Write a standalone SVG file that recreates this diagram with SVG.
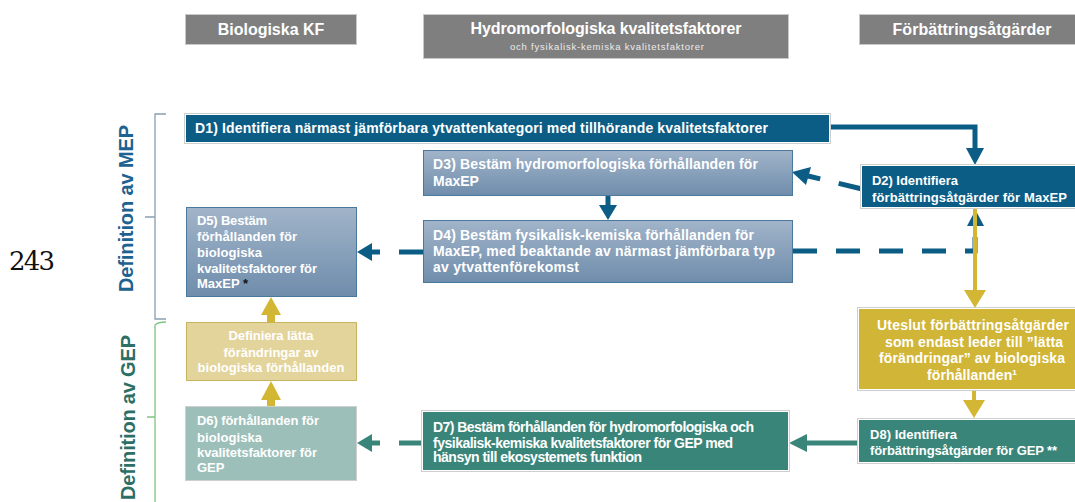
<svg xmlns="http://www.w3.org/2000/svg" width="1075" height="502" viewBox="0 0 1075 502">
<defs>
<linearGradient id="gb" x1="0" y1="0" x2="0" y2="1">
<stop offset="0" stop-color="#a1b4c9"/>
<stop offset="1" stop-color="#6f8dac"/>
</linearGradient>
</defs>
<style>
text{font-family:"Liberation Sans",Arial,sans-serif;font-weight:bold;fill:#fff}
.hdr{fill:#7f7f7f;stroke:#c9c9c9;stroke-width:1}
.h{font-size:16px}
.t14{font-size:14px}
.t13{font-size:13px}
.frame{fill:#fff;stroke:#cfcfcf;stroke-width:1}
.blue{fill:#0b5d86}
.grad{fill:url(#gb);stroke:#4b789d;stroke-width:1}
.teal{fill:#3a8579}
.lteal{fill:#9cc0b9}
.mustard{fill:#d1b536}
.khaki{fill:#e3d49b;stroke:#c9b45e;stroke-width:1}
.lb{stroke:#0b5d86;stroke-width:5;fill:none}
.lbd{stroke:#0b5d86;stroke-width:5;fill:none;stroke-dasharray:24 19}
.ltd{stroke:#3a8579;stroke-width:5;fill:none;stroke-dasharray:24 19}
.lt{stroke:#3a8579;stroke-width:5;fill:none}
.ly{stroke:#d3b734;stroke-width:4;fill:none}
.lyw{stroke:#d3b734;stroke-width:8;fill:none}
.hb{fill:#0b5d86}
.ht{fill:#3a8579}
.hy{fill:#d3b734}
.side{font-size:20px}
</style>

<g id="header-bio">
<rect class="hdr" x="185.5" y="14.5" width="171" height="30"/>
<text class="h" x="271" y="35" text-anchor="middle">Biologiska KF</text>
</g>
<g id="header-hydro">
<rect class="hdr" x="423.5" y="14.5" width="365" height="44"/>
<text class="h" x="606" y="34" text-anchor="middle" textLength="271">Hydromorfologiska kvalitetsfaktorer</text>
<text x="607" y="50" text-anchor="middle" style="font-size:9.5px;font-weight:normal;fill:#ececec" textLength="194">och fysikalisk-kemiska  kvalitetsfaktorer</text>
</g>
<g id="header-atg">
<rect class="hdr" x="859.5" y="14.5" width="216" height="30"/>
<text class="h" x="972" y="35" text-anchor="middle" textLength="159">Förbättringsåtgärder</text>
</g>

<g id="page-number">
<text x="9" y="270" style="font-family:'DejaVu Serif',serif;font-weight:normal;font-size:26px;fill:#111" textLength="46">243</text>
</g>

<g id="bracket-mep">
<path d="M166,114 H155 V319 H166 M155,217 H145" fill="none" stroke="#8a9fb1" stroke-width="1.3"/>
<text class="side" transform="translate(133,208.5) rotate(-90)" text-anchor="middle" style="fill:#1d6290" textLength="167">Definition av MEP</text>
</g>
<g id="bracket-gep">
<path d="M166,322 Q158,322 155,325 V502 M155,417 H147" fill="none" stroke="#7fc583" stroke-width="1.3"/>
<text class="side" transform="translate(135,417.5) rotate(-90)" text-anchor="middle" style="fill:#2d6e65" textLength="165">Definition av GEP</text>
</g>

<g id="connectors">
<!-- D1 -> D2 -->
<path class="lb" d="M829,127 H975 V150"/>
<polygon class="hb" points="966,148 984,148 975,165"/>
<!-- D2 -> D3 dashed -->
<path class="lbd" d="M862,189 L808,176"/>
<polygon class="hb" points="792,172 811,167 806,185"/>
<!-- D3 -> D4 -->
<path class="lb" d="M608,196 V206"/>
<polygon class="hb" points="599,205 617,205 608,220"/>
<!-- D4 -> D2 dashed -->
<path class="lbd" d="M793,251 H975 V226"/>
<polygon class="hb" points="967,226 984,226 975.5,210"/>
<!-- D4 -> D5 dashed -->
<path class="lbd" d="M423,252 H370"/>
<polygon class="hb" points="372,243 372,261 357,252"/>
<!-- D2 -> Uteslut -->
<path class="ly" d="M975,208 V292"/>
<polygon class="hy" points="964,290 986,290 975,308"/>
<!-- Uteslut -> D8 -->
<path class="ly" d="M974,389 V402"/>
<polygon class="hy" points="963,400 985,400 974,418"/>
<!-- Definiera -> D5 -->
<path class="lyw" d="M271,322 V312"/>
<polygon class="hy" points="261,315 281,315 271,297"/>
<!-- D6 -> Definiera -->
<path class="lyw" d="M271,407 V397"/>
<polygon class="hy" points="261,400 281,400 271,381"/>
<!-- D7 -> D6 dashed -->
<path class="ltd" d="M423,443 H370"/>
<polygon class="ht" points="372,434 372,452 357,443"/>
<!-- D8 -> D7 -->
<path class="lt" d="M859,443 H805"/>
<polygon class="ht" points="807,434 807,452 789,443"/>
</g>

<g id="D1">
<rect class="frame" x="184.5" y="113.5" width="646" height="30"/>
<rect class="blue" x="186" y="115" width="643" height="27"/>
<text class="t14" x="195" y="133" textLength="573">D1) Identifiera närmast jämförbara ytvattenkategori med tillhörande kvalitetsfaktorer</text>
</g>

<g id="D2">
<rect class="frame" x="860.5" y="164.5" width="216" height="44"/>
<rect class="blue" x="862" y="166" width="213" height="41"/>
<text class="t13" x="872" y="184.5" textLength="86">D2) Identifiera</text>
<text class="t13" x="872" y="202" textLength="195">förbättringsåtgärder för MaxEP</text>
</g>

<g id="D3">
<rect class="grad" x="423.5" y="150.5" width="369" height="45"/>
<text class="t14" x="433" y="169" textLength="325">D3) Bestäm hydromorfologiska förhållanden för</text>
<text class="t14" x="433" y="186">MaxEP</text>
</g>

<g id="D4">
<rect class="grad" x="423.5" y="220.5" width="369" height="62"/>
<text class="t14" x="433" y="240" textLength="321">D4) Bestäm fysikalisk-kemiska förhållanden för</text>
<text class="t14" x="433" y="256" textLength="342">MaxEP, med beaktande av närmast jämförbara typ</text>
<text class="t14" x="433" y="272" textLength="146">av ytvattenförekomst</text>
</g>

<g id="D5">
<rect class="grad" x="186.5" y="207.5" width="170" height="89"/>
<text class="t13" x="197" y="225" textLength="70">D5) Bestäm</text>
<text class="t13" x="197" y="241" textLength="100">förhållanden för</text>
<text class="t13" x="197" y="257" textLength="65">biologiska</text>
<text class="t13" x="197" y="272.5" textLength="120">kvalitetsfaktorer för</text>
<text class="t13" x="197" y="288">MaxEP<tspan style="fill:#111"> *</tspan></text>
</g>

<g id="Uteslut">
<rect class="frame" x="857.5" y="307.5" width="219" height="83"/>
<rect class="mustard" x="859" y="309" width="216" height="80"/>
<text class="t14" x="973" y="330" text-anchor="middle" textLength="192">Uteslut förbättringsåtgärder</text>
<text class="t14" x="974" y="346.5" text-anchor="middle" textLength="178">som endast leder till  ”lätta</text>
<text class="t14" x="972" y="363" text-anchor="middle" textLength="186">förändringar” av biologiska</text>
<text class="t14" x="972" y="380" text-anchor="middle" textLength="90">förhållanden¹</text>
</g>

<g id="Definiera">
<rect class="khaki" x="186.5" y="322.5" width="170" height="58"/>
<text class="t13" x="271" y="340" text-anchor="middle" textLength="85">Definiera lätta</text>
<text class="t13" x="271" y="356.5" text-anchor="middle" textLength="95">förändringar av</text>
<text class="t13" x="271" y="371.5" text-anchor="middle" textLength="147">biologiska förhållanden</text>
</g>

<g id="D6">
<rect class="frame" x="185.5" y="406.5" width="171" height="74"/>
<rect class="lteal" x="186" y="407" width="170" height="73"/>
<text class="t13" x="197" y="425" textLength="122">D6) förhållanden för</text>
<text class="t13" x="197" y="441.5" textLength="65">biologiska</text>
<text class="t13" x="197" y="456.5" textLength="120">kvalitetsfaktorer för</text>
<text class="t13" x="197" y="472">GEP</text>
</g>

<g id="D7">
<rect class="frame" x="421.5" y="410.5" width="368" height="61"/>
<rect class="teal" x="423" y="412" width="365" height="58"/>
<text class="t14" x="433" y="432" textLength="321">D7) Bestäm förhållanden för hydromorfologiska och</text>
<text class="t14" x="433" y="447.5" textLength="300">fysikalisk-kemiska kvalitetsfaktorer för GEP med</text>
<text class="t14" x="433" y="462" textLength="209">hänsyn till ekosystemets funktion</text>
</g>

<g id="D8">
<rect class="frame" x="857.5" y="418.5" width="219" height="45"/>
<rect class="teal" x="859" y="420" width="216" height="42"/>
<text class="t13" x="870" y="439" textLength="87">D8) Identifiera</text>
<text class="t13" x="870" y="455" textLength="187">förbättringsåtgärder för GEP **</text>
</g>
</svg>
